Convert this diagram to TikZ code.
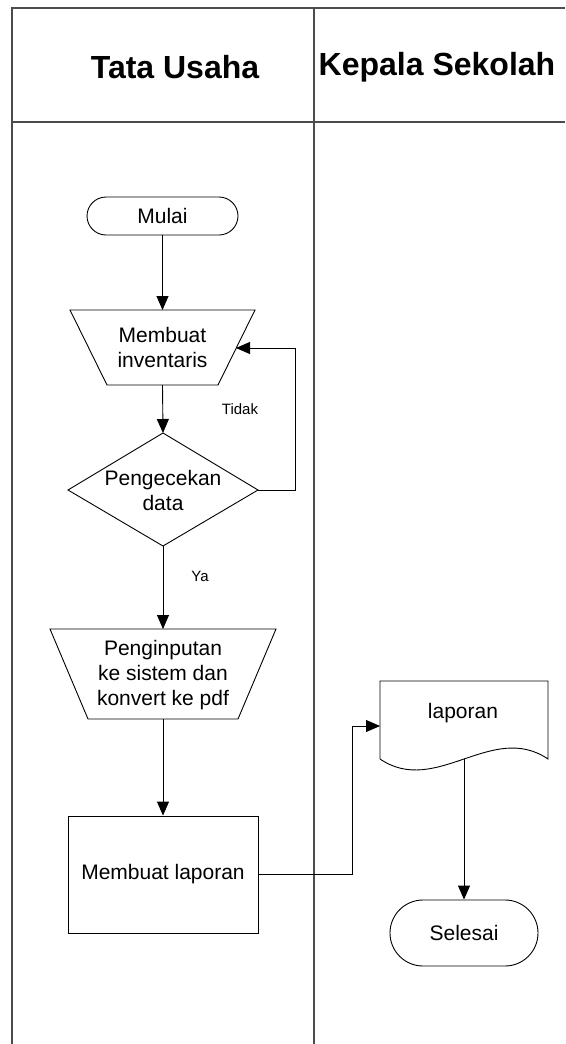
\documentclass[tikz,border=0pt]{standalone}
\usepackage{fontspec}
\setmainfont{Liberation Sans}
\usetikzlibrary{arrows.meta}
\begin{document}
\begin{tikzpicture}[x=1pt,y=-1pt,
  lane/.style={draw=black!70,line width=1.3pt},
  outline/.style={draw=black,line width=0.9pt},
  flow/.style={draw=black,line width=0.9pt,-{Triangle[length=14pt,width=12pt]}},
  txt/.style={font=\fontsize{21}{25}\selectfont,align=center,inner sep=0pt},
  small/.style={font=\fontsize{15}{18}\selectfont,inner sep=0pt},
  head/.style={font=\fontsize{32}{36}\selectfont\bfseries,inner sep=0pt},
  term/.style={outline,rectangle,txt}]
\useasboundingbox (0,0) rectangle (565,1044);
\fill[white] (0,0) rectangle (565,1044);

% swimlane frame
\coordinate (fTL) at (12,8);
\coordinate (fTR) at (565,8);
\coordinate (fBL) at (12,1044);
\coordinate (mT) at (314,8);
\coordinate (mB) at (314,1044);
\coordinate (hL) at (12,122);
\coordinate (hR) at (565,122);
\draw[lane] (fTR) -- (fTL) -- (fBL);
\draw[lane] (mT) -- (mB);
\draw[lane] (hL) -- (hR);
\node[head] (h1) at (175,67) {Tata Usaha};
\node[head] (h2) at (437,67) {Kepala Sekolah};

% start
\node[term,minimum width=151pt,minimum height=38pt,rounded corners=19pt] (mulai) at (162.5,216) {Mulai};

% manual input: Membuat inventaris
\coordinate (t1top) at (162.5,310);
\coordinate (t1bot) at (162.5,385);
\coordinate (t1in) at (236,348);
\draw[outline] (70,310) -- (255,310) -- (218,385) -- (107,385) -- cycle;
\node[txt] (inv) at (162.5,347) {Membuat\\inventaris};

% decision
\coordinate (dtop) at (163,433);
\coordinate (dright) at (258,490);
\coordinate (dbot) at (163,546);
\coordinate (dleft) at (68,490);
\draw[outline] (dtop) -- (dright) -- (dbot) -- (dleft) -- cycle;
\node[txt] (cek) at (163,490) {Pengecekan\\data};

% manual input: Penginputan
\coordinate (t2top) at (163,629);
\coordinate (t2bot) at (163,719);
\draw[outline] (50,629) -- (276,629) -- (238,719) -- (88,719) -- cycle;
\node[txt] (input) at (163,675) {Penginputan\\ke sistem dan\\konvert ke pdf};

% process
\node[outline,rectangle,txt,minimum width=190pt,minimum height=117pt] (buat) at (163,874.5) {Membuat laporan};

% document
\coordinate (docin) at (380,726);
\coordinate (docbot) at (464,759);
\draw[outline] (380,759) -- (380,681) -- (548,681) -- (548,759)
  .. controls (492,721) and (436,797) .. (380,759);
\node[txt] (lapdoc) at (463,713) {laporan};

% end
\node[term,minimum width=148pt,minimum height=66pt,rounded corners=33pt] (selesai) at (464,933) {Selesai};

% connectors
\coordinate (loopA) at (295,490);
\coordinate (loopB) at (295,348);
\coordinate (jogT) at (352,726);
\draw[flow] (mulai.south) -- (t1top);
\draw[flow] (t1bot) -- (dtop);
\draw[flow] (dright) -- (loopA) -- (loopB) -- (t1in);
\draw[flow] (dbot) -- (t2top);
\draw[flow] (t2bot) -- (buat.north);
\draw[flow] (buat.east) -| (jogT) -- (docin);
\draw[flow] (docbot) -- (selesai.north);
\node[small] (tidak) at (240,409) {Tidak};
\node[small] (ya) at (200,576) {Ya};
\end{tikzpicture}
\end{document}
